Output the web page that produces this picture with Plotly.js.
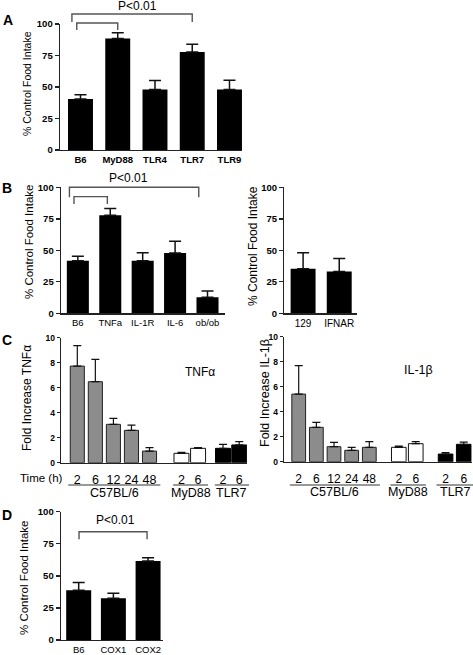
<!DOCTYPE html>
<html><head><meta charset="utf-8">
<script src="https://cdn.plot.ly/plotly-3.0.1.min.js"></script>
<style>html,body{margin:0;padding:0;background:#fff;}#chart{width:473px;height:655px;}</style>
</head><body><div id="chart"></div>
<script>
// ---------------- DATA ----------------
const catsA = ['B6', 'MyD88', 'TLR4', 'TLR7', 'TLR9'];
const intakeA = [40.5, 88.5, 48, 77.8, 48];
const semA = [3.4, 4.5, 7.2, 6.1, 7.3];

const catsB = ['B6', 'TNFa', 'IL-1R', 'IL-6', 'ob/ob'];
const intakeB = [41.8, 77.8, 41.8, 47.9, 12.7];
const semB = [3.4, 5.3, 6.3, 9.2, 5.0];

const catsB2 = ['129', 'IFNAR'];
const intakeB2 = [35.4, 33.1];
const semB2 = [12.7, 10.3];

const timesC57 = ['2', '6', '12', '24', '48'];
const timesKO = ['2', '6'];
const groupNames = ['C57BL/6', 'MyD88', 'TLR7'];

const tnfC57 = [7.73, 6.48, 3.07, 2.59, 0.93];
const tnfC57Sem = [1.63, 1.79, 0.48, 0.42, 0.27];
const tnfMyD88 = [0.75, 1.15];
const tnfMyD88Sem = [0.08, 0.05];
const tnfTLR7 = [1.15, 1.42];
const tnfTLR7Sem = [0.32, 0.26];

const il1C57 = [5.41, 2.75, 1.2, 0.91, 1.15];
const il1C57Sem = [2.27, 0.4, 0.35, 0.24, 0.45];
const il1MyD88 = [1.15, 1.44];
const il1MyD88Sem = [0.1, 0.16];
const il1TLR7 = [0.61, 1.39];
const il1TLR7Sem = [0.11, 0.18];

const catsD = ['B6', 'COX1', 'COX2'];
const intakeD = [38.7, 32.5, 61.6];
const semD = [6.2, 3.9, 2.6];

const pctTicks = [0, 25, 50, 75, 100];
const foldTicks = [0, 2, 4, 6, 8, 10];

// ---------------- LAYOUT HELPERS ----------------
const W = 473, H = 655;
const F = 'Arial, "Liberation Sans", sans-serif';
// pixel frame of each subplot: x px left/right, y px bottom/top, and axis ranges
const AX = {
  A:  {xa:'x',  ya:'y',  xpx:[60, 242],    ypx:[150, 24],    xr:[-0.55, 4.336], yr:[0, 100]},
  B:  {xa:'x2', ya:'y2', xpx:[61, 225],    ypx:[313.3, 187.3], xr:[-0.52, 4.54], yr:[0, 100]},
  B2: {xa:'x3', ya:'y3', xpx:[284.3, 357.3], ypx:[313.3, 187.3], xr:[-0.52, 1.5], yr:[0, 100]},
  CL: {xa:'x4', ya:'y4', xpx:[61, 247],    ypx:[462.7, 337.7], xr:[-0.903, 9.40], yr:[0, 10]},
  CR: {xa:'x5', ya:'y5', xpx:[284, 471.7], ypx:[461.7, 336.7], xr:[-0.833, 9.80], yr:[0, 10]},
  D:  {xa:'x6', ya:'y6', xpx:[61, 163],    ypx:[640, 511.7], xr:[-0.51, 2.43], yr:[0, 100]}
};
function px2x(p){ return p / W; }
function px2y(p){ return 1 - p / H; }
function toPaper(k, x, y){
  const a = AX[k];
  const fx = (x - a.xr[0]) / (a.xr[1] - a.xr[0]);
  const fy = (y - a.yr[0]) / (a.yr[1] - a.yr[0]);
  return [px2x(a.xpx[0] + fx * (a.xpx[1] - a.xpx[0])), px2y(a.ypx[0] + fy * (a.ypx[1] - a.ypx[0]))];
}
// C panels: group layout (start slot and pitch for each genotype group)
const CL_GROUPS = {start:[0, 5.77, 8.07], step:[1, 0.92, 0.9]};
const CR_GROUPS = {start:[0, 5.67, 8.32], step:[1, 0.96, 1.03]};
function groupX(g, n, spec){ return Array.from({length:n}, (_, i) => spec.start[g] + i * spec.step[g]); }

const zeros = n => new Array(n).fill(0);
function err(sem, w, th){ return {type:'data', symmetric:false, array:sem, arrayminus:zeros(sem.length), color:'#111', thickness:th || 1.5, width:w}; }

function barTrace(k, x, y, sem, opts){
  return Object.assign({
    type:'bar', x:x, y:y, xaxis:AX[k].xa, yaxis:AX[k].ya,
    marker:{color:'#000', line:{color:'#000', width:0}},
    error_y: err(sem, 6), hoverinfo:'x+y'
  }, opts);
}

const traces = [];
traces.push(barTrace('A', catsA, intakeA, semA, {width:0.67}));
traces.push(barTrace('B', catsB, intakeB, semB, {width:0.68}));
traces.push(barTrace('B2', catsB2, intakeB2, semB2, {width:0.69}));

function cTraces(k, spec, c57, c57s, myd, myds, tlr, tlrs){
  const gx = groupX(0, c57.length, spec), mx = groupX(1, myd.length, spec), tx = groupX(2, tlr.length, spec);
  traces.push(barTrace(k, gx, c57, c57s, {width:0.78, marker:{color:'#8c8c8c', line:{color:'#222', width:1}}, error_y:err(c57s, 4, 1.2)}));
  traces.push(barTrace(k, mx, myd, myds, {width:0.83, marker:{color:'#fff', line:{color:'#111', width:1}}, error_y:err(myds, 4, 1.2)}));
  traces.push(barTrace(k, tx, tlr, tlrs, {width:0.83, marker:{color:'#000', line:{color:'#000', width:1}}, error_y:err(tlrs, 4, 1.2)}));
  return {tickvals: gx.concat(mx, tx), ticktext: timesC57.concat(timesKO, timesKO), groups:[gx, mx, tx]};
}
const cl = cTraces('CL', CL_GROUPS, tnfC57, tnfC57Sem, tnfMyD88, tnfMyD88Sem, tnfTLR7, tnfTLR7Sem);
const cr = cTraces('CR', CR_GROUPS, il1C57, il1C57Sem, il1MyD88, il1MyD88Sem, il1TLR7, il1TLR7Sem);
traces.push(barTrace('D', catsD, intakeD, semD, {width:0.72}));

// ---------------- AXES ----------------
const layout = {
  width:W, height:H, margin:{l:0, r:0, t:0, b:0},
  paper_bgcolor:'#fff', plot_bgcolor:'#fff', showlegend:false,
  font:{family:F, color:'#000'},
  shapes:[], annotations:[]
};
function setAxes(k, xopts, yopts){
  const a = AX[k];
  const xn = 'xaxis' + a.xa.slice(1), yn = 'yaxis' + a.ya.slice(1);
  layout[xn] = Object.assign({
    domain:[px2x(a.xpx[0]), px2x(a.xpx[1])], range:a.xr, anchor:a.ya,
    showline:true, linecolor:'#222', linewidth:1.4, ticks:'', showgrid:false, zeroline:false,
    fixedrange:true
  }, xopts);
  layout[yn] = Object.assign({
    domain:[px2y(a.ypx[0]), px2y(a.ypx[1])], range:a.yr, anchor:a.xa,
    showline:true, linecolor:'#222', linewidth:1.4, ticks:'outside', ticklen:4, tickwidth:1.4, tickcolor:'#222',
    showgrid:false, zeroline:false, fixedrange:true,
    tickfont:{family:F, size:9.5, weight:'bold', color:'#000'}
  }, yopts);
}
setAxes('A', {type:'category', tickfont:{family:F, size:9.5, weight:'bold'}}, {tickvals:pctTicks});
setAxes('B', {type:'category', tickfont:{family:F, size:9.5}}, {tickvals:pctTicks});
setAxes('B2', {type:'category', tickfont:{family:F, size:10}}, {tickvals:pctTicks});
setAxes('CL', {tickvals:cl.tickvals, ticktext:cl.ticktext, tickfont:{family:F, size:12.5}, ticklabelstandoff:5},
              {tickvals:foldTicks, ticklen:3, tickfont:{family:F, size:8.5, weight:'bold', color:'#000'}});
setAxes('CR', {tickvals:cr.tickvals, ticktext:cr.ticktext, tickfont:{family:F, size:12}, ticklabelstandoff:5},
              {tickvals:foldTicks, ticklen:3, tickfont:{family:F, size:8.5, weight:'bold', color:'#000'}});
setAxes('D', {type:'category', tickfont:{family:F, size:9.5}}, {tickvals:pctTicks});

// ---------------- ANNOTATIONS / SHAPES ----------------
function ann(text, xpx, ypx, size, extra){
  layout.annotations.push(Object.assign({text:text, xref:'paper', yref:'paper', x:px2x(xpx), y:px2y(ypx),
    xanchor:'center', yanchor:'middle', showarrow:false, font:{family:F, size:size, color:'#000'}}, extra));
}
// panel letters
ann('<b>A</b>', 8, 20, 14); ann('<b>B</b>', 7, 188, 14); ann('<b>C</b>', 7, 340, 14); ann('<b>D</b>', 7, 515, 14);
// y titles
ann('% Control Food Intake', 27, 84, 10.5, {textangle:-90});
ann('% Control Food Intake', 29, 242, 11.5, {textangle:-90});
ann('% Control Food Intake', 253, 246, 12, {textangle:-90});
ann('Fold Increase TNFα', 27, 398, 12, {textangle:-90});
ann('Fold Increase IL-1β', 265, 393, 12.5, {textangle:-90});
ann('% Control Food Intake', 24, 578, 11.5, {textangle:-90});
// in-panel labels
ann('TNFα', 200, 372, 12);
ann('IL-1β', 418, 370, 12.5);
ann('Time (h)', 41, 478, 11.5);

// significance brackets (x in category index, y in data units)
function bracket(k, x0, x1, yTop, yLeg){
  const p0 = toPaper(k, x0, yLeg), p1 = toPaper(k, x0, yTop), p2 = toPaper(k, x1, yTop), p3 = toPaper(k, x1, yLeg);
  layout.shapes.push({type:'path', xref:'paper', yref:'paper',
    path:`M${p0[0]},${p0[1]} L${p1[0]},${p1[1]} L${p2[0]},${p2[1]} L${p3[0]},${p3[1]}`,
    line:{color:'#555', width:1.4}});
}
function pLabel(k, x, y){
  const p = toPaper(k, x, y);
  layout.annotations.push({text:'P<0.01', xref:'paper', yref:'paper', x:p[0], y:p[1], xanchor:'center', yanchor:'middle',
    showarrow:false, font:{family:F, size:12, color:'#000'}});
}
bracket('A', -0.23, 3, 107.9, 101.6); bracket('A', -0.1, 1.0, 100.8, 95.2); pLabel('A', 1.54, 114);
bracket('B', -0.26, 3.73, 100, 92.1); bracket('B', -0.12, 0.91, 92.6, 86.8); pLabel('B', 1.55, 107);
bracket('D', 0.01, 1.97, 84.4, 78.5); pLabel('D', 1.05, 93.5);

// group underlines + labels for C panels
function groupLabels(k, res, yLinePx, yTextPx){
  res.groups.forEach((xs, g) => {
    const pitch = xs.length > 1 ? xs[1] - xs[0] : 1;
    const l = toPaper(k, xs[0] - 0.5 * pitch, 0)[0];
    const r = toPaper(k, xs[xs.length - 1] + 0.6 * pitch, 0)[0];
    layout.shapes.push({type:'line', xref:'paper', yref:'paper', x0:l, x1:r, y0:px2y(yLinePx), y1:px2y(yLinePx), line:{color:'#333', width:1}});
    layout.annotations.push({text:groupNames[g], xref:'paper', yref:'paper', x:(l + r) / 2, y:px2y(yTextPx),
      xanchor:'center', yanchor:'middle', showarrow:false, font:{family:F, size:12.5, color:'#000'}});
  });
}
groupLabels('CL', cl, 485, 492.5);
groupLabels('CR', cr, 485, 492);

Plotly.newPlot('chart', traces, layout, {staticPlot:true, displayModeBar:false});
</script>
</body></html>
